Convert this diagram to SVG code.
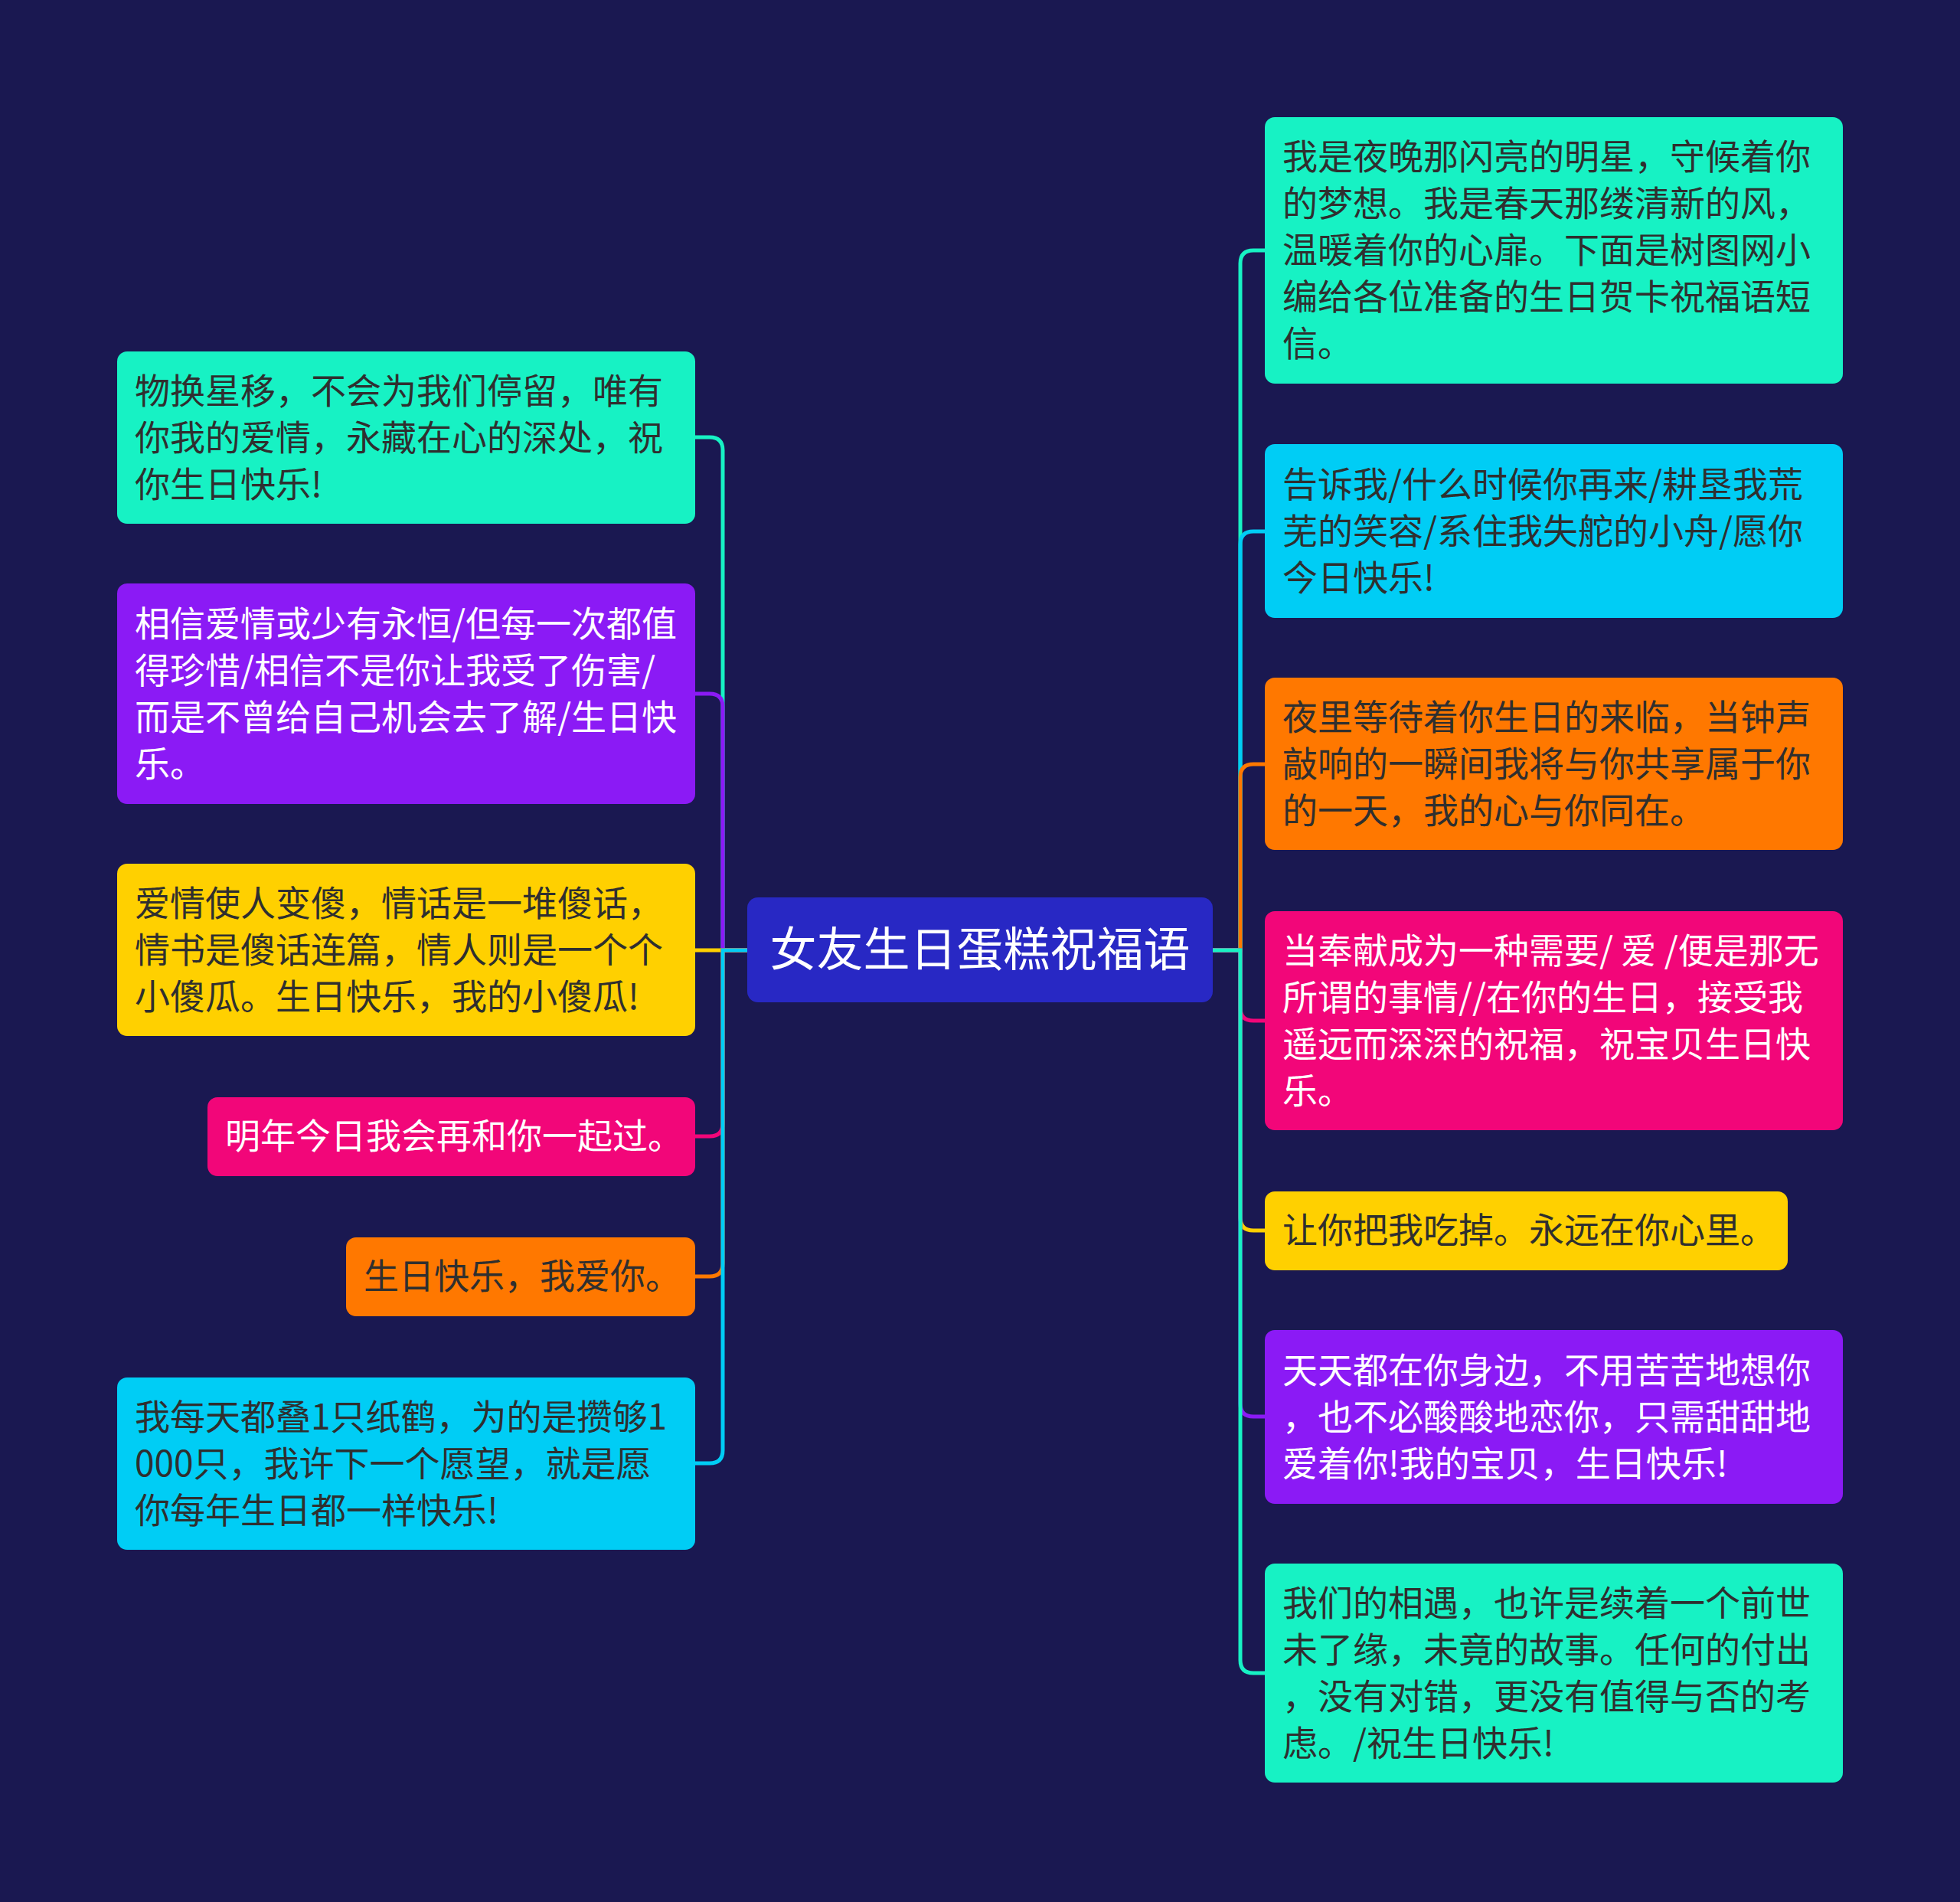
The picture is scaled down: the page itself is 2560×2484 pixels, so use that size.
<svg xmlns="http://www.w3.org/2000/svg" width="2560" height="2484" viewBox="0 0 2560 2484">
<style>
.t{font-family:"Noto Sans CJK SC","Noto Sans",sans-serif;font-size:46px}
.d{fill:#2f2f2f}
.w{fill:#ffffff}
.c{font-family:"Noto Sans CJK SC","Noto Sans",sans-serif;font-size:61px;fill:#ffffff;text-anchor:middle}
.ln{fill:none;stroke-width:5;stroke-linecap:round}
</style>
<rect width="2560" height="2484" fill="#1a1851"/>
<g id="connectors">
<path class="ln" stroke="#17f2c4" d="M976 1241 H944 V588 Q944 571 927 571 H908"/>
<path class="ln" stroke="#8b1af5" d="M976 1241 H944 V923 Q944 906 927 906 H908"/>
<path class="ln" stroke="#ffd000" d="M976 1241 H908"/>
<path class="ln" stroke="#f20679" d="M976 1241 H944 V1467 Q944 1484 927 1484 H908"/>
<path class="ln" stroke="#ff7800" d="M976 1241 H944 V1650 Q944 1667 927 1667 H908"/>
<path class="ln" stroke="#00cdf5" d="M976 1241 H944 V1894 Q944 1911 927 1911 H908"/>
<path class="ln" stroke="#17f2c4" d="M1584 1241 H1620 V344 Q1620 327 1637 327 H1652"/>
<path class="ln" stroke="#00cdf5" d="M1584 1241 H1620 V711 Q1620 694 1637 694 H1652"/>
<path class="ln" stroke="#ff7800" d="M1584 1241 H1620 V1015 Q1620 998 1637 998 H1652"/>
<path class="ln" stroke="#f20679" d="M1584 1241 H1620 V1316 Q1620 1333 1637 1333 H1652"/>
<path class="ln" stroke="#ffd000" d="M1584 1241 H1620 V1590 Q1620 1607 1637 1607 H1652"/>
<path class="ln" stroke="#8b1af5" d="M1584 1241 H1620 V1833 Q1620 1850 1637 1850 H1652"/>
<path class="ln" stroke="#17f2c4" d="M1584 1241 H1620 V2168 Q1620 2185 1637 2185 H1652"/>
</g>
<g id="center">
<rect x="976" y="1172" width="608" height="137" rx="14" fill="#2828c4"/>
<text class="c" x="1280" y="1262">女友生日蛋糕祝福语</text>
</g>
<g id="L1">
<rect x="153" y="459" width="755" height="225" rx="13" fill="#17f2c4"/>
<text class="t d" x="176"><tspan x="176" y="527">物换星移，不会为我们停留，唯有</tspan><tspan x="176" y="588">你我的爱情，永藏在心的深处，祝</tspan><tspan x="176" y="649">你生日快乐!</tspan></text>
</g>
<g id="L2">
<rect x="153" y="762" width="755" height="288" rx="13" fill="#8b1af5"/>
<text class="t w" x="176"><tspan x="176" y="831">相信爱情或少有永恒/但每一次都值</tspan><tspan x="176" y="892">得珍惜/相信不是你让我受了伤害/</tspan><tspan x="176" y="953">而是不曾给自己机会去了解/生日快</tspan><tspan x="176" y="1014">乐。</tspan></text>
</g>
<g id="L3">
<rect x="153" y="1128" width="755" height="225" rx="13" fill="#ffd000"/>
<text class="t d" x="176"><tspan x="176" y="1196">爱情使人变傻，情话是一堆傻话，</tspan><tspan x="176" y="1257">情书是傻话连篇，情人则是一个个</tspan><tspan x="176" y="1318">小傻瓜。生日快乐，我的小傻瓜!</tspan></text>
</g>
<g id="L4">
<rect x="271" y="1433" width="637" height="103" rx="13" fill="#f20679"/>
<text class="t w" x="294" y="1500">明年今日我会再和你一起过。</text>
</g>
<g id="L5">
<rect x="452" y="1616" width="456" height="103" rx="13" fill="#ff7800"/>
<text class="t d" x="475" y="1683">生日快乐，我爱你。</text>
</g>
<g id="L6">
<rect x="153" y="1799" width="755" height="225" rx="13" fill="#00cdf5"/>
<text class="t d" x="176"><tspan x="176" y="1867">我每天都叠1只纸鹤，为的是攒够1</tspan><tspan x="176" y="1928">000只，我许下一个愿望，就是愿</tspan><tspan x="176" y="1989">你每年生日都一样快乐!</tspan></text>
</g>
<g id="R1">
<rect x="1652" y="153" width="755" height="348" rx="13" fill="#17f2c4"/>
<text class="t d" x="1675"><tspan x="1675" y="221">我是夜晚那闪亮的明星，守候着你</tspan><tspan x="1675" y="282">的梦想。我是春天那缕清新的风，</tspan><tspan x="1675" y="343">温暖着你的心扉。下面是树图网小</tspan><tspan x="1675" y="404">编给各位准备的生日贺卡祝福语短</tspan><tspan x="1675" y="465">信。</tspan></text>
</g>
<g id="R2">
<rect x="1652" y="580" width="755" height="227" rx="13" fill="#00cdf5"/>
<text class="t d" x="1675"><tspan x="1675" y="649">告诉我/什么时候你再来/耕垦我荒</tspan><tspan x="1675" y="710">芜的笑容/系住我失舵的小舟/愿你</tspan><tspan x="1675" y="771">今日快乐!</tspan></text>
</g>
<g id="R3">
<rect x="1652" y="885" width="755" height="225" rx="13" fill="#ff7800"/>
<text class="t d" x="1675"><tspan x="1675" y="953">夜里等待着你生日的来临，当钟声</tspan><tspan x="1675" y="1014">敲响的一瞬间我将与你共享属于你</tspan><tspan x="1675" y="1075">的一天，我的心与你同在。</tspan></text>
</g>
<g id="R4">
<rect x="1652" y="1190" width="755" height="286" rx="13" fill="#f20679"/>
<text class="t w" x="1675"><tspan x="1675" y="1258">当奉献成为一种需要/ 爱 /便是那无</tspan><tspan x="1675" y="1319">所谓的事情//在你的生日，接受我</tspan><tspan x="1675" y="1380">遥远而深深的祝福，祝宝贝生日快</tspan><tspan x="1675" y="1441">乐。</tspan></text>
</g>
<g id="R5">
<rect x="1652" y="1556" width="683" height="103" rx="13" fill="#ffd000"/>
<text class="t d" x="1675" y="1623">让你把我吃掉。永远在你心里。</text>
</g>
<g id="R6">
<rect x="1652" y="1737" width="755" height="227" rx="13" fill="#8b1af5"/>
<text class="t w" x="1675"><tspan x="1675" y="1806">天天都在你身边，不用苦苦地想你</tspan><tspan x="1675" y="1867">，也不必酸酸地恋你，只需甜甜地</tspan><tspan x="1675" y="1928">爱着你!我的宝贝，生日快乐!</tspan></text>
</g>
<g id="R7">
<rect x="1652" y="2042" width="755" height="286" rx="13" fill="#17f2c4"/>
<text class="t d" x="1675"><tspan x="1675" y="2110">我们的相遇，也许是续着一个前世</tspan><tspan x="1675" y="2171">未了缘，未竟的故事。任何的付出</tspan><tspan x="1675" y="2232">，没有对错，更没有值得与否的考</tspan><tspan x="1675" y="2293">虑。/祝生日快乐!</tspan></text>
</g>
</svg>
